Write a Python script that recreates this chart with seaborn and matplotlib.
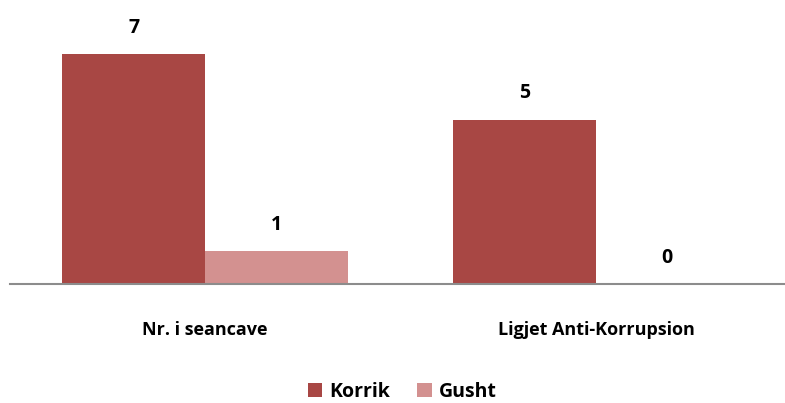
import matplotlib
matplotlib.use("Agg")
import matplotlib.pyplot as plt
import seaborn as sns
import pandas as pd
from matplotlib.patches import Patch

categories = ["Nr. i seancave", "Ligjet Anti-Korrupsion"]
series = ["Korrik", "Gusht"]
korrik = [7, 5]
gusht = [1, 0]
colors = ["#A84744", "#D39190"]

df = pd.DataFrame({
    "cat": categories * 2,
    "series": [series[0]] * 2 + [series[1]] * 2,
    "val": korrik + gusht,
})

sns.set_theme(style="white")
plt.rcParams["font.family"] = ["Open Sans", "DejaVu Sans"]

W, H = 785, 403
fig = plt.figure(figsize=(W / 100, H / 100), dpi=100)
ax_left, ax_right = 9.5, 791.5
y0, ppu = 284, 32.86
ymax = 8
ax_top = y0 - ymax * ppu
ax = fig.add_axes([ax_left / W, 1 - y0 / H, (ax_right - ax_left) / W, (y0 - ax_top) / H])

sns.barplot(data=df, x="cat", y="val", hue="series", palette=colors,
            width=0.73, dodge=True, ax=ax, legend=False, saturation=1,
            linewidth=0, edgecolor="none")
ax.set_xlim(-0.5, 1.5)
ax.set_ylim(0, ymax)
ax.set_xlabel("")
ax.set_ylabel("")
ax.set_yticks([])
for s in ["top", "right", "left"]:
    ax.spines[s].set_visible(False)
ax.spines["bottom"].set_color("#8C8C8C")
ax.spines["bottom"].set_linewidth(1.5)
ax.tick_params(axis="x", length=0, pad=33, colors="black")
for lbl in ax.get_xticklabels():
    lbl.set_fontweight("bold")
    lbl.set_fontsize(13)
    lbl.set_color("black")
    lbl.set_va("center")

for cont in ax.containers:
    for bar in cont:
        h = bar.get_height()
        ax.annotate(f"{int(round(h))}", (bar.get_x() + bar.get_width() / 2, h),
                    xytext=(0, 19), textcoords="offset points",
                    ha="center", va="center", fontsize=14, fontweight="bold",
                    color="black")

handles = [Patch(facecolor=c, edgecolor="none", label=s) for c, s in zip(colors, series)]
fig.legend(handles=handles, loc="center", bbox_to_anchor=(402 / W, 1 - 392 / H),
           ncol=2, frameon=False, handlelength=0.75, handleheight=0.75,
           handletextpad=0.35, columnspacing=1.4, labelcolor="black",
           prop={"weight": "bold", "size": 14})

fig.savefig("out.png", dpi=100)
